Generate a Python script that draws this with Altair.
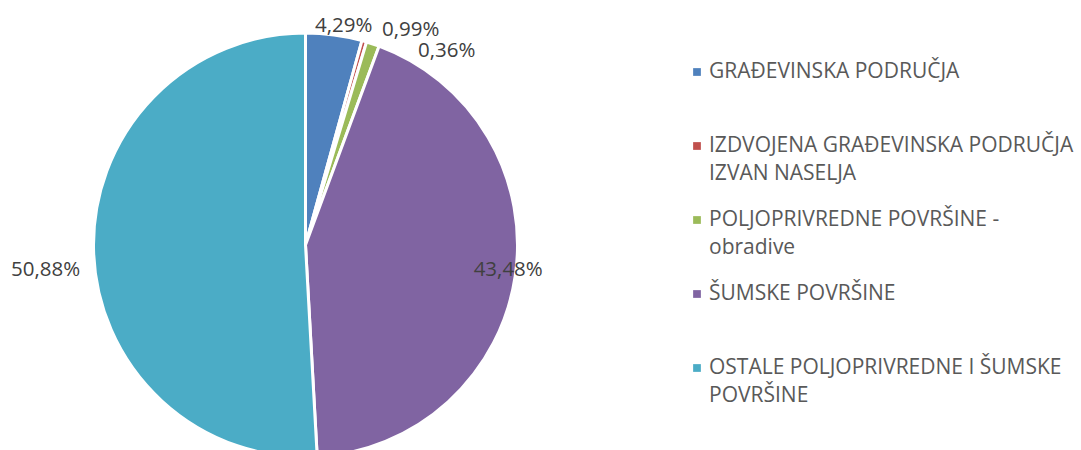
import altair as alt
import pandas as pd

categories = [
    "GRAĐEVINSKA PODRUČJA",
    "IZDVOJENA GRAĐEVINSKA PODRUČJA IZVAN NASELJA",
    "POLJOPRIVREDNE POVRŠINE - obradive",
    "ŠUMSKE POVRŠINE",
    "OSTALE POLJOPRIVREDNE I ŠUMSKE POVRŠINE",
]
values = [4.29, 0.36, 0.99, 43.48, 50.88]
# data labels as printed in the reference, in slice order
labels = ["4,29%", "0,99%", "0,36%", "43,48%", "50,88%"]
legend_line1 = [
    "GRAĐEVINSKA PODRUČJA",
    "IZDVOJENA GRAĐEVINSKA PODRUČJA",
    "POLJOPRIVREDNE POVRŠINE -",
    "ŠUMSKE POVRŠINE",
    "OSTALE POLJOPRIVREDNE I ŠUMSKE",
]
legend_line2 = ["", "IZVAN NASELJA", "obradive", "", "POVRŠINE"]
colors = ["#4F81BD", "#C0504D", "#9BBB59", "#8064A2", "#4BACC6"]

# style: (label radius, dx, dy) per slice
label_style = [(225, 8, 4), (239, 39, 15), (240, 65, 34), (205, 0, -6), (260, 0, 18)]

cum = 0.0
mids = []
for v in values:
    mids.append(cum + v / 2)
    cum += v

df = pd.DataFrame({
    "cat": categories,
    "value": values,
    "idx": list(range(len(values))),
    "mid": mids,
    "label": labels,
    "l1": legend_line1,
    "l2": legend_line2,
})

CX, CY, R = 305.5, 245, 212
FONT = "Open Sans"
theta_scale = alt.Scale(domain=[0, 100], range=[0, 6.283185307])
color_scale = alt.Scale(domain=categories, range=colors)

base = alt.Chart(df)

pie = base.mark_arc(outerRadius=R, stroke="white", strokeWidth=3).encode(
    theta=alt.Theta("value:Q", stack=True, scale=theta_scale),
    color=alt.Color("cat:N", scale=color_scale, legend=None),
    order=alt.Order("idx:Q"),
    x=alt.value(CX),
    y=alt.value(CY),
)

label_layers = []
for i, (rad, dx, dy) in enumerate(label_style):
    label_layers.append(
        base.transform_filter(alt.datum.idx == i)
        .mark_text(font=FONT, fontSize=20.5, color="#404040", dx=dx, dy=dy,
                   align="center", baseline="middle")
        .encode(
            theta=alt.Theta("mid:Q", stack=None, scale=theta_scale),
            radius=alt.value(rad),
            x=alt.value(CX),
            y=alt.value(CY),
            text="label:N",
        )
    )

leg_y = alt.Y("idx:Q", scale=alt.Scale(domain=[0, 4], range=[72, 368]), axis=None)

leg_sq = base.mark_square(size=60, opacity=1).encode(
    x=alt.value(697),
    y=leg_y,
    color=alt.Color("cat:N", scale=color_scale, legend=None),
)
leg_t1 = base.mark_text(font=FONT, fontSize=21, color="#595959", align="left",
                        baseline="middle").encode(
    x=alt.value(709), y=leg_y, text="l1:N")
leg_t2 = base.mark_text(font=FONT, fontSize=21, color="#595959", align="left",
                        baseline="middle", dy=28).encode(
    x=alt.value(709), y=leg_y, text="l2:N")

chart = alt.layer(pie, *label_layers, leg_sq, leg_t1, leg_t2).resolve_scale(
    theta="shared"
).properties(
    width=1081, height=450, padding=0, autosize=alt.AutoSizeParams(type="none")
).configure_view(stroke=None)

chart.save("out.html", embed_options={"renderer": "svg", "actions": False})
